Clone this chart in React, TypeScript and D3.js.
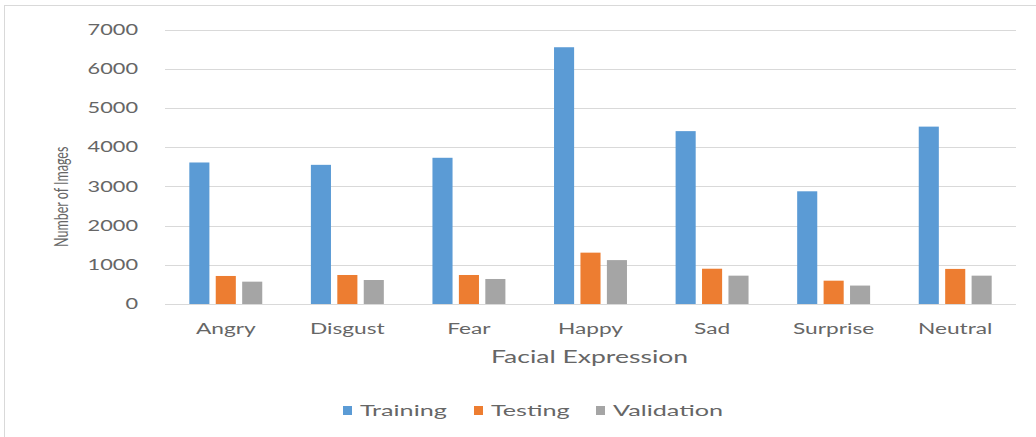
import { useEffect, useRef } from "react";
import * as d3 from "d3";

const categories = ["Angry", "Disgust", "Fear", "Happy", "Sad", "Surprise", "Neutral"];
const seriesNames = ["Training", "Testing", "Validation"];
const training = [3610, 3550, 3730, 6550, 4410, 2875, 4525];
const testing = [715, 740, 740, 1310, 900, 595, 895];
const validation = [570, 612, 638, 1120, 723, 470, 723];
const yTicks = [0, 1000, 2000, 3000, 4000, 5000, 6000, 7000];
const colors = ["#5b9bd5", "#ed7d31", "#a5a5a5"];

const W = 1036;
const H = 437;
const FONT = "Lato, 'Open Sans', sans-serif";
const TEXT = "#666666";

export default function App() {
  const ref = useRef<SVGSVGElement>(null);

  useEffect(() => {
    if (!ref.current) return;
    const svg = d3.select(ref.current);
    svg.selectAll("*").remove();

    const plot = { left: 165, right: 1016, top: 29.6, bottom: 304 };
    const values = [training, testing, validation];

    const x = d3
      .scaleBand()
      .domain(categories)
      .range([plot.left, plot.right])
      .paddingInner(0.4)
      .paddingOuter(0.2);

    const xs = d3
      .scaleBand()
      .domain(seriesNames)
      .range([0, x.bandwidth()])
      .paddingInner(0.24);

    const y = d3.scaleLinear().domain([0, 7000]).range([plot.bottom, plot.top]);

    // frame
    svg
      .append("rect")
      .attr("x", 4.5)
      .attr("y", 5.5)
      .attr("width", W + 10)
      .attr("height", H + 10)
      .attr("fill", "#fff")
      .attr("stroke", "#d9d9d9");

    // grid
    svg
      .append("g")
      .selectAll("line")
      .data(yTicks)
      .enter()
      .append("line")
      .attr("x1", plot.left)
      .attr("x2", plot.right)
      .attr("y1", (d) => Math.round(y(d)) + 0.5)
      .attr("y2", (d) => Math.round(y(d)) + 0.5)
      .attr("stroke", "#d9d9d9")
      .attr("stroke-width", 1.2);

    // y tick labels
    svg
      .append("g")
      .selectAll("text")
      .data(yTicks)
      .enter()
      .append("text")
      .attr("transform", (d) => `translate(138,${y(d)}) scale(1.5,1)`)
      .attr("dy", "0.36em")
      .attr("text-anchor", "end")
      .attr("font-family", FONT)
      .attr("font-size", 14.5)
      .attr("fill", TEXT)
      .text((d) => String(d));

    // bars
    seriesNames.forEach((s, si) => {
      svg
        .append("g")
        .selectAll("rect")
        .data(categories)
        .enter()
        .append("rect")
        .attr("x", (c) => (x(c) || 0) + (xs(s) || 0))
        .attr("y", (c, i) => y(values[si][i]))
        .attr("width", xs.bandwidth())
        .attr("height", (c, i) => y(0) - y(values[si][i]))
        .attr("fill", colors[si]);
    });

    // x labels
    svg
      .append("g")
      .selectAll("text")
      .data(categories)
      .enter()
      .append("text")
      .attr("transform", (c) => `translate(${(x(c) || 0) + x.bandwidth() / 2},334) scale(1.42,1)`)
      .attr("text-anchor", "middle")
      .attr("font-family", FONT)
      .attr("font-size", 16)
      .attr("fill", TEXT)
      .text((c) => c);

    // axis titles
    svg
      .append("text")
      .attr("transform", `translate(${(plot.left + plot.right) / 2 - 1},363) scale(1.56,1)`)
      .attr("text-anchor", "middle")
      .attr("font-family", FONT)
      .attr("font-size", 17)
      .attr("fill", TEXT)
      .text("Facial Expression");

    svg
      .append("text")
      .attr("transform", `translate(68,${(plot.top + plot.bottom) / 2 + 30}) scale(1.55,1) rotate(-90)`)
      .attr("text-anchor", "middle")
      .attr("font-family", FONT)
      .attr("font-size", 12.5)
      .attr("fill", TEXT)
      .text("Number of Images");

    // legend
    const legendX = [343, 474, 596];
    const legend = svg.append("g");
    seriesNames.forEach((s, i) => {
      legend
        .append("rect")
        .attr("x", legendX[i])
        .attr("y", 406)
        .attr("width", 9)
        .attr("height", 9)
        .attr("fill", colors[i]);
      legend
        .append("text")
        .attr("transform", `translate(${legendX[i] + 17},416) scale(1.68,1)`)
        .attr("font-family", FONT)
        .attr("font-size", 15)
        .attr("fill", TEXT)
        .text(s);
    });
  }, []);

  return (
    <svg
      ref={ref}
      width={W}
      height={H}
      style={{ position: "fixed", left: 0, top: 0, display: "block", background: "#fff" }}
    />
  );
}
